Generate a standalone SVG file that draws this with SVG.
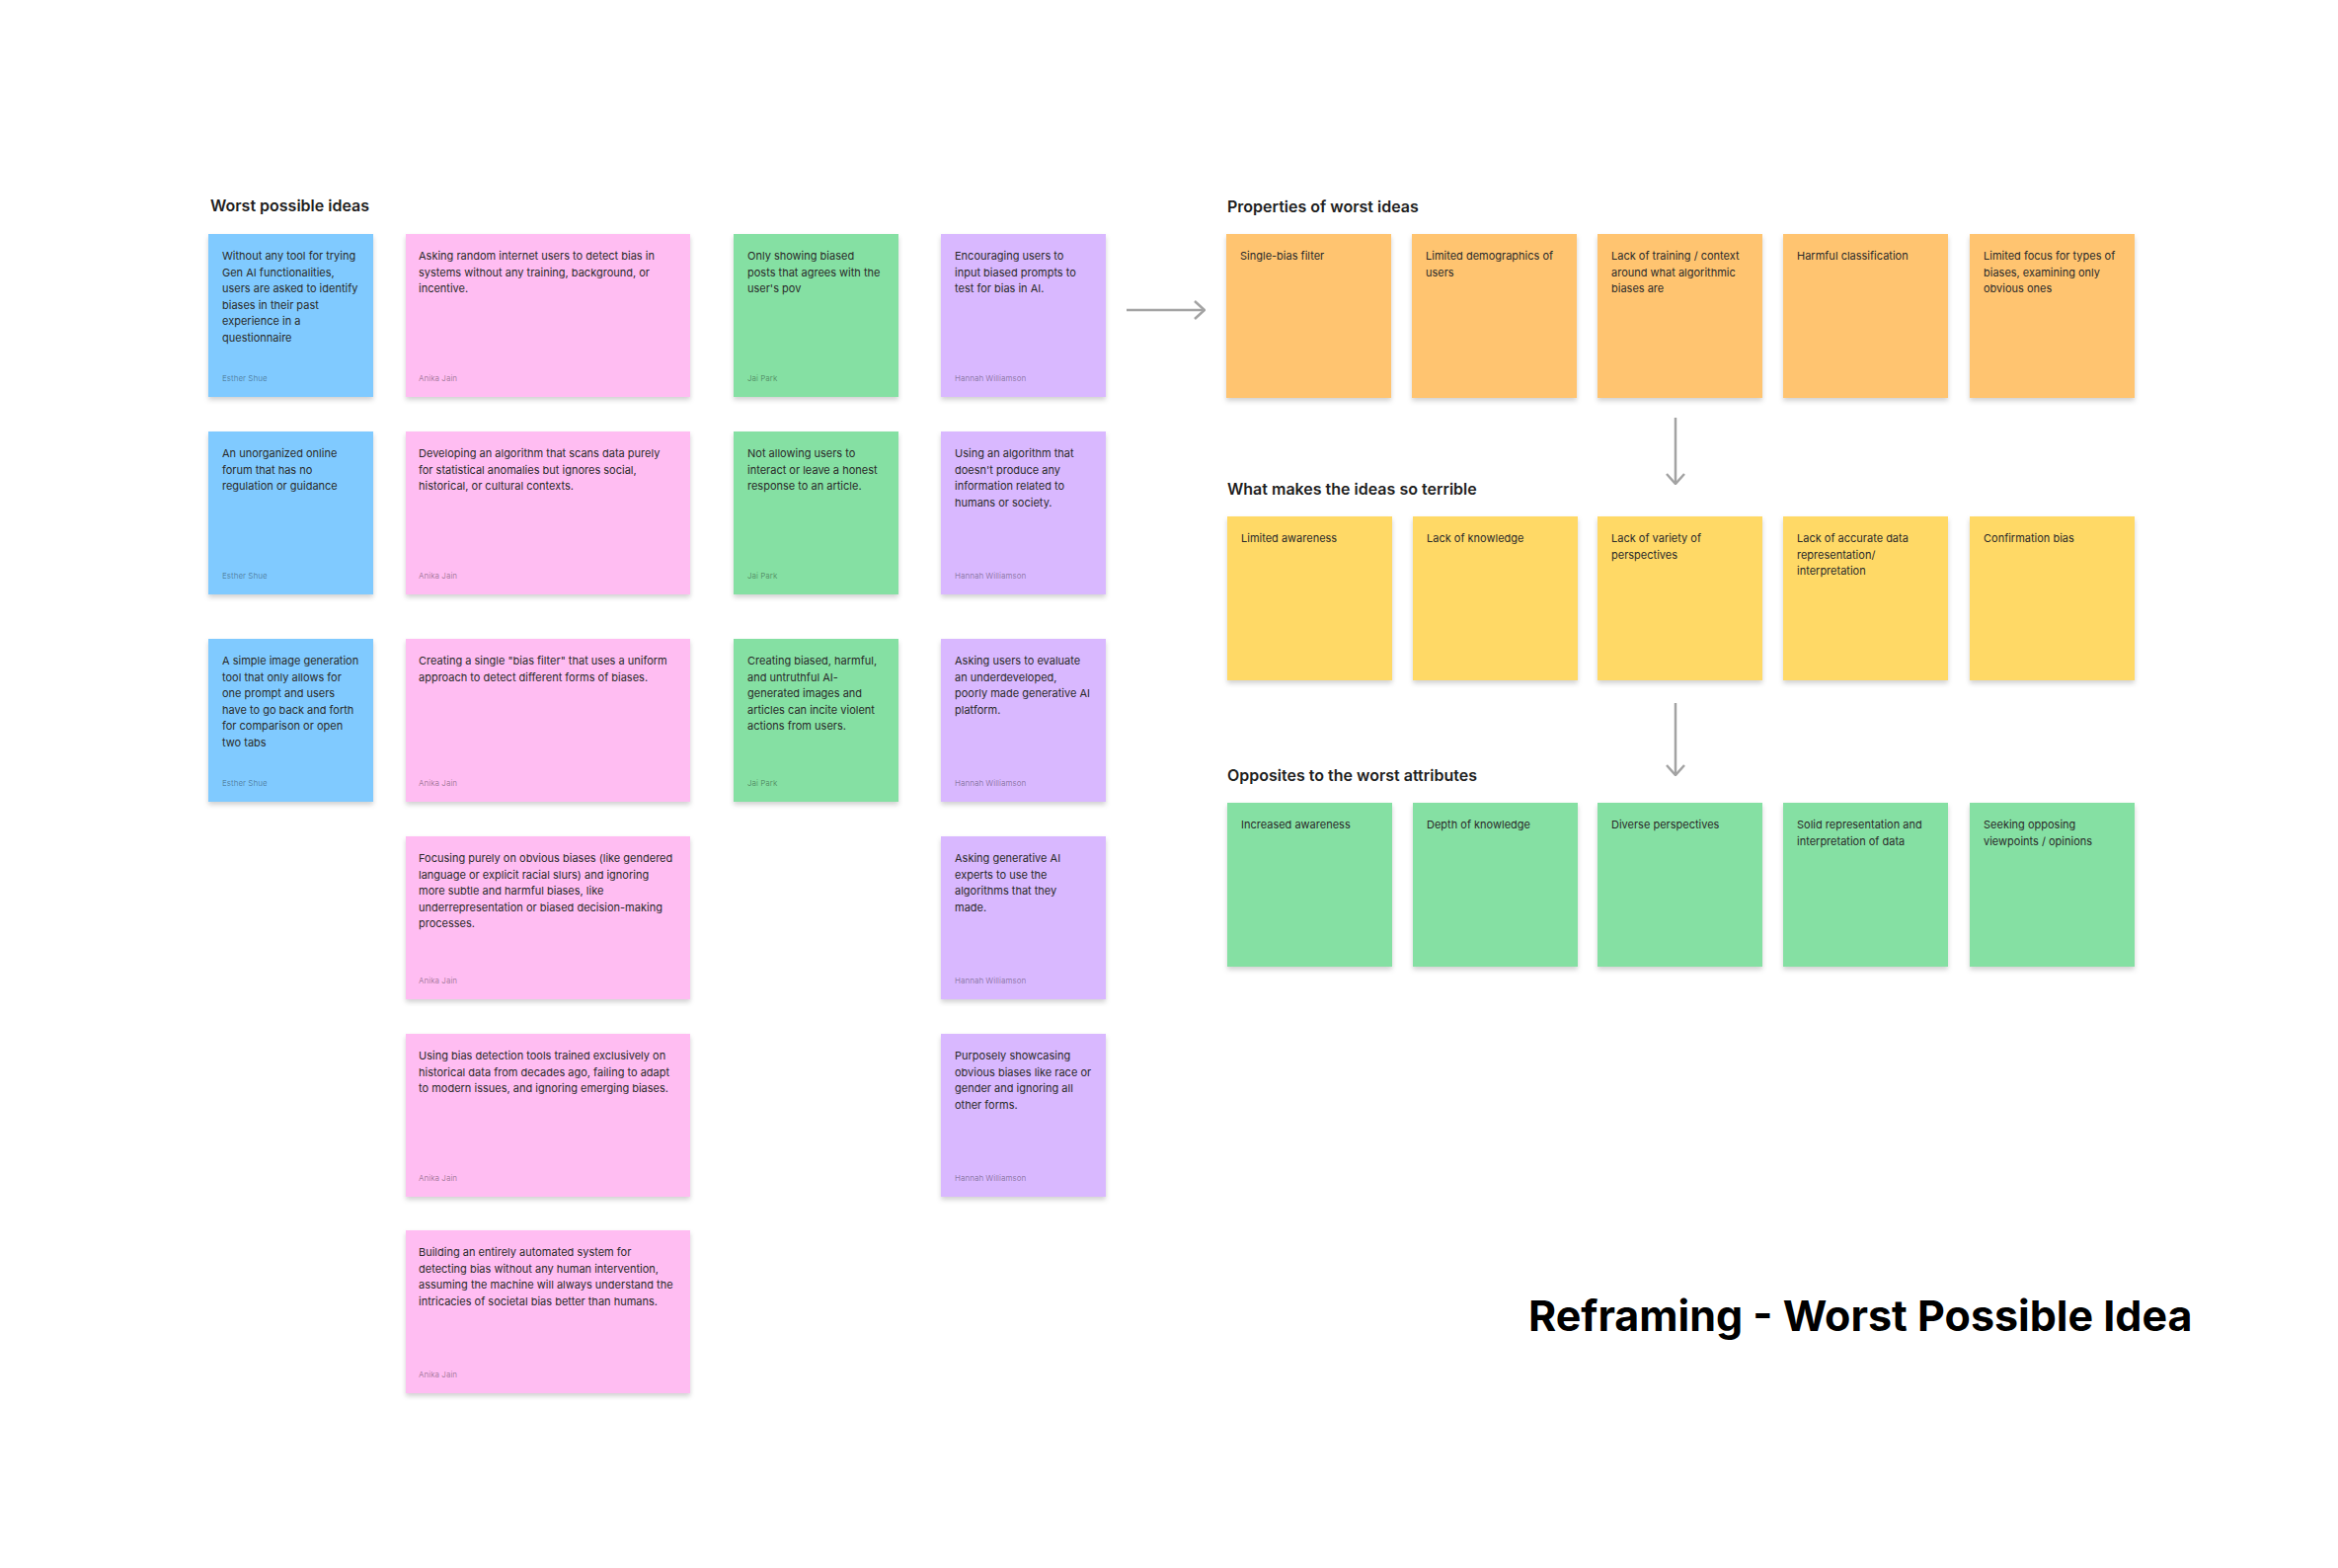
<svg xmlns="http://www.w3.org/2000/svg" width="2368" height="1588" viewBox="0 0 2368 1588">
<defs>
<filter id="sh" x="-10%" y="-10%" width="120%" height="125%">
<feDropShadow dx="0" dy="3" stdDeviation="2.5" flood-color="#000" flood-opacity="0.18"/>
</filter>
<marker id="ah" viewBox="0 0 12 20" refX="11" refY="10" markerWidth="12" markerHeight="20" markerUnits="userSpaceOnUse" orient="auto">
<path d="M1,1 L11,10 L1,19" fill="none" stroke="#a3a3a3" stroke-width="2.5"/>
</marker>
</defs>
<style>
rect.n{filter:url(#sh)}
.blue{fill:#80CAFF}
.pink{fill:#FFBDF2}
.green{fill:#85E0A3}
.violet{fill:#D9B8FF}
.orange{fill:#FFC470}
.yellow{fill:#FFD966}
.t{font-family:Inter,"Liberation Sans",sans-serif;font-size:11px;fill:#2a2a2a}
.a{font-family:Inter,"Liberation Sans",sans-serif;font-size:8px;fill:#000;fill-opacity:0.38}
.h{font-family:Inter,"Liberation Sans",sans-serif;font-weight:600;font-size:16px;fill:#1e1e1e}
.title{font-family:Inter,"Liberation Sans",sans-serif;font-weight:700;font-size:43px;fill:#000}
.c{fill:none;stroke:#a3a3a3;stroke-width:2.5;marker-end:url(#ah)}
</style>
<rect width="2368" height="1588" fill="#fff"/>

<g id="headings">
<text class="h" x="213" y="214">Worst possible ideas</text>
<text class="h" x="1243" y="215">Properties of worst ideas</text>
<text class="h" x="1243" y="501">What makes the ideas so terrible</text>
<text class="h" x="1243" y="791">Opposites to the worst attributes</text>
</g>

<g id="connectors">
<line class="c" x1="1141" y1="314" x2="1220" y2="314"/>
<line class="c" x1="1697" y1="423" x2="1697" y2="490"/>
<line class="c" x1="1697" y1="712" x2="1697" y2="785"/>
</g>

<!-- Blue column -->
<g id="b1"><rect class="n blue" x="211" y="237" width="167" height="165"/>
<text class="t"><tspan x="225" y="263">Without any tool for trying</tspan><tspan x="225" y="279.6">Gen AI functionalities,</tspan><tspan x="225" y="296.2">users are asked to identify</tspan><tspan x="225" y="312.8">biases in their past</tspan><tspan x="225" y="329.4">experience in a</tspan><tspan x="225" y="346">questionnaire</tspan></text>
<text class="a" x="225" y="386">Esther Shue</text></g>
<g id="b2"><rect class="n blue" x="211" y="437" width="167" height="165"/>
<text class="t"><tspan x="225" y="463">An unorganized online</tspan><tspan x="225" y="479.6">forum that has no</tspan><tspan x="225" y="496.2">regulation or guidance</tspan></text>
<text class="a" x="225" y="586">Esther Shue</text></g>
<g id="b3"><rect class="n blue" x="211" y="647" width="167" height="165"/>
<text class="t"><tspan x="225" y="673">A simple image generation</tspan><tspan x="225" y="689.6">tool that only allows for</tspan><tspan x="225" y="706.2">one prompt and users</tspan><tspan x="225" y="722.8">have to go back and forth</tspan><tspan x="225" y="739.4">for comparison or open</tspan><tspan x="225" y="756">two tabs</tspan></text>
<text class="a" x="225" y="796">Esther Shue</text></g>

<!-- Pink column -->
<g id="p1"><rect class="n pink" x="411" y="237" width="288" height="165"/>
<text class="t"><tspan x="424" y="263">Asking random internet users to detect bias in</tspan><tspan x="424" y="279.6">systems without any training, background, or</tspan><tspan x="424" y="296.2">incentive.</tspan></text>
<text class="a" x="424" y="386">Anika Jain</text></g>
<g id="p2"><rect class="n pink" x="411" y="437" width="288" height="165"/>
<text class="t"><tspan x="424" y="463">Developing an algorithm that scans data purely</tspan><tspan x="424" y="479.6">for statistical anomalies but ignores social,</tspan><tspan x="424" y="496.2">historical, or cultural contexts.</tspan></text>
<text class="a" x="424" y="586">Anika Jain</text></g>
<g id="p3"><rect class="n pink" x="411" y="647" width="288" height="165"/>
<text class="t"><tspan x="424" y="673">Creating a single "bias filter" that uses a uniform</tspan><tspan x="424" y="689.6">approach to detect different forms of biases.</tspan></text>
<text class="a" x="424" y="796">Anika Jain</text></g>
<g id="p4"><rect class="n pink" x="411" y="847" width="288" height="165"/>
<text class="t"><tspan x="424" y="873">Focusing purely on obvious biases (like gendered</tspan><tspan x="424" y="889.6">language or explicit racial slurs) and ignoring</tspan><tspan x="424" y="906.2">more subtle and harmful biases, like</tspan><tspan x="424" y="922.8">underrepresentation or biased decision-making</tspan><tspan x="424" y="939.4">processes.</tspan></text>
<text class="a" x="424" y="996">Anika Jain</text></g>
<g id="p5"><rect class="n pink" x="411" y="1047" width="288" height="165"/>
<text class="t"><tspan x="424" y="1073">Using bias detection tools trained exclusively on</tspan><tspan x="424" y="1089.6">historical data from decades ago, failing to adapt</tspan><tspan x="424" y="1106.2">to modern issues, and ignoring emerging biases.</tspan></text>
<text class="a" x="424" y="1196">Anika Jain</text></g>
<g id="p6"><rect class="n pink" x="411" y="1246" width="288" height="165"/>
<text class="t"><tspan x="424" y="1272">Building an entirely automated system for</tspan><tspan x="424" y="1288.6">detecting bias without any human intervention,</tspan><tspan x="424" y="1305.2">assuming the machine will always understand the</tspan><tspan x="424" y="1321.8">intricacies of societal bias better than humans.</tspan></text>
<text class="a" x="424" y="1395">Anika Jain</text></g>

<!-- Green column -->
<g id="g1"><rect class="n green" x="743" y="237" width="167" height="165"/>
<text class="t"><tspan x="757" y="263">Only showing biased</tspan><tspan x="757" y="279.6">posts that agrees with the</tspan><tspan x="757" y="296.2">user's pov</tspan></text>
<text class="a" x="757" y="386">Jai Park</text></g>
<g id="g2"><rect class="n green" x="743" y="437" width="167" height="165"/>
<text class="t"><tspan x="757" y="463">Not allowing users to</tspan><tspan x="757" y="479.6">interact or leave a honest</tspan><tspan x="757" y="496.2">response to an article.</tspan></text>
<text class="a" x="757" y="586">Jai Park</text></g>
<g id="g3"><rect class="n green" x="743" y="647" width="167" height="165"/>
<text class="t"><tspan x="757" y="673">Creating biased, harmful,</tspan><tspan x="757" y="689.6">and untruthful AI-</tspan><tspan x="757" y="706.2">generated images and</tspan><tspan x="757" y="722.8">articles can incite violent</tspan><tspan x="757" y="739.4">actions from users.</tspan></text>
<text class="a" x="757" y="796">Jai Park</text></g>

<!-- Violet column -->
<g id="v1"><rect class="n violet" x="953" y="237" width="167" height="165"/>
<text class="t"><tspan x="967" y="263">Encouraging users to</tspan><tspan x="967" y="279.6">input biased prompts to</tspan><tspan x="967" y="296.2">test for bias in AI.</tspan></text>
<text class="a" x="967" y="386">Hannah Williamson</text></g>
<g id="v2"><rect class="n violet" x="953" y="437" width="167" height="165"/>
<text class="t"><tspan x="967" y="463">Using an algorithm that</tspan><tspan x="967" y="479.6">doesn't produce any</tspan><tspan x="967" y="496.2">information related to</tspan><tspan x="967" y="512.8">humans or society.</tspan></text>
<text class="a" x="967" y="586">Hannah Williamson</text></g>
<g id="v3"><rect class="n violet" x="953" y="647" width="167" height="165"/>
<text class="t"><tspan x="967" y="673">Asking users to evaluate</tspan><tspan x="967" y="689.6">an underdeveloped,</tspan><tspan x="967" y="706.2">poorly made generative AI</tspan><tspan x="967" y="722.8">platform.</tspan></text>
<text class="a" x="967" y="796">Hannah Williamson</text></g>
<g id="v4"><rect class="n violet" x="953" y="847" width="167" height="165"/>
<text class="t"><tspan x="967" y="873">Asking generative AI</tspan><tspan x="967" y="889.6">experts to use the</tspan><tspan x="967" y="906.2">algorithms that they</tspan><tspan x="967" y="922.8">made.</tspan></text>
<text class="a" x="967" y="996">Hannah Williamson</text></g>
<g id="v5"><rect class="n violet" x="953" y="1047" width="167" height="165"/>
<text class="t"><tspan x="967" y="1073">Purposely showcasing</tspan><tspan x="967" y="1089.6">obvious biases like race or</tspan><tspan x="967" y="1106.2">gender and ignoring all</tspan><tspan x="967" y="1122.8">other forms.</tspan></text>
<text class="a" x="967" y="1196">Hannah Williamson</text></g>

<!-- Properties of worst ideas -->
<g id="o1"><rect class="n orange" x="1242" y="237" width="167" height="166"/>
<text class="t"><tspan x="1256" y="263">Single-bias filter</tspan></text></g>
<g id="o2"><rect class="n orange" x="1430" y="237" width="167" height="166"/>
<text class="t"><tspan x="1444" y="263">Limited demographics of</tspan><tspan x="1444" y="279.6">users</tspan></text></g>
<g id="o3"><rect class="n orange" x="1618" y="237" width="167" height="166"/>
<text class="t"><tspan x="1632" y="263">Lack of training / context</tspan><tspan x="1632" y="279.6">around what algorithmic</tspan><tspan x="1632" y="296.2">biases are</tspan></text></g>
<g id="o4"><rect class="n orange" x="1806" y="237" width="167" height="166"/>
<text class="t"><tspan x="1820" y="263">Harmful classification</tspan></text></g>
<g id="o5"><rect class="n orange" x="1995" y="237" width="167" height="166"/>
<text class="t"><tspan x="2009" y="263">Limited focus for types of</tspan><tspan x="2009" y="279.6">biases, examining only</tspan><tspan x="2009" y="296.2">obvious ones</tspan></text></g>

<!-- What makes the ideas so terrible -->
<g id="y1"><rect class="n yellow" x="1243" y="523" width="167" height="166"/>
<text class="t"><tspan x="1257" y="549">Limited awareness</tspan></text></g>
<g id="y2"><rect class="n yellow" x="1431" y="523" width="167" height="166"/>
<text class="t"><tspan x="1445" y="549">Lack of knowledge</tspan></text></g>
<g id="y3"><rect class="n yellow" x="1618" y="523" width="167" height="166"/>
<text class="t"><tspan x="1632" y="549">Lack of variety of</tspan><tspan x="1632" y="565.6">perspectives</tspan></text></g>
<g id="y4"><rect class="n yellow" x="1806" y="523" width="167" height="166"/>
<text class="t"><tspan x="1820" y="549">Lack of accurate data</tspan><tspan x="1820" y="565.6">representation/</tspan><tspan x="1820" y="582.2">interpretation</tspan></text></g>
<g id="y5"><rect class="n yellow" x="1995" y="523" width="167" height="166"/>
<text class="t"><tspan x="2009" y="549">Confirmation bias</tspan></text></g>

<!-- Opposites to the worst attributes -->
<g id="q1"><rect class="n green" x="1243" y="813" width="167" height="166"/>
<text class="t"><tspan x="1257" y="839">Increased awareness</tspan></text></g>
<g id="q2"><rect class="n green" x="1431" y="813" width="167" height="166"/>
<text class="t"><tspan x="1445" y="839">Depth of knowledge</tspan></text></g>
<g id="q3"><rect class="n green" x="1618" y="813" width="167" height="166"/>
<text class="t"><tspan x="1632" y="839">Diverse perspectives</tspan></text></g>
<g id="q4"><rect class="n green" x="1806" y="813" width="167" height="166"/>
<text class="t"><tspan x="1820" y="839">Solid representation and</tspan><tspan x="1820" y="855.6">interpretation of data</tspan></text></g>
<g id="q5"><rect class="n green" x="1995" y="813" width="167" height="166"/>
<text class="t"><tspan x="2009" y="839">Seeking opposing</tspan><tspan x="2009" y="855.6">viewpoints / opinions</tspan></text></g>

<g id="title"><text class="title" x="1548" y="1348">Reframing - Worst Possible Idea</text></g>
</svg>
